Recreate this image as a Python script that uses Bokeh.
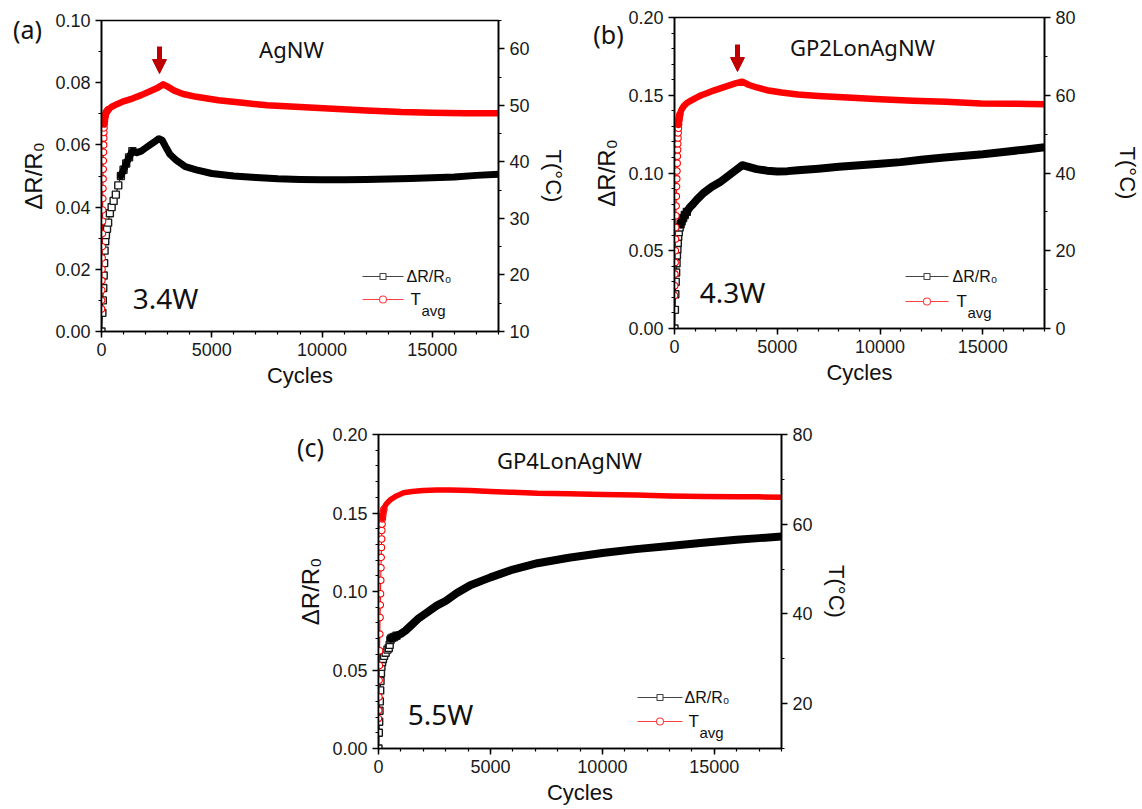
import numpy as np
from bokeh.plotting import figure
from bokeh.models import (Range1d, LinearAxis, FixedTicker, NumeralTickFormatter,
                          Label, Arrow, NormalHead, Spacer, GridBox)
from bokeh.layouts import row, column
from bokeh.embed import file_html
from bokeh.resources import INLINE
from bokeh.core.properties import value

# ---------------- data ----------------
# (a) AgNW, 3.4 W
a_cyc_dr = [0, 40, 60, 80, 100, 120, 140, 170, 200, 250, 300, 380, 460, 550, 650, 760, 880, 1000,
            1120, 1250, 1400, 1600, 1800, 2000, 2200, 2400, 2600, 2750, 2900, 3100, 3400, 3800,
            4300, 5000, 6000, 7000, 8000, 9000, 10000, 11000, 12000, 13000, 14000, 15000, 16000,
            17000, 18000]
a_dr = [0.000, 0.006, 0.010, 0.014, 0.018, 0.022, 0.026, 0.029, 0.031, 0.033, 0.035, 0.038, 0.040,
        0.042, 0.044, 0.047, 0.050, 0.052, 0.054, 0.056, 0.058, 0.0575, 0.058, 0.059, 0.060, 0.061,
        0.062, 0.0615, 0.0595, 0.057, 0.055, 0.053, 0.052, 0.0508, 0.0500, 0.0495, 0.0491, 0.0489,
        0.0488, 0.0488, 0.0489, 0.0490, 0.0492, 0.0494, 0.0497, 0.0502, 0.0506]
a_cyc_t = [0, 6, 12, 18, 24, 30, 36, 42, 48, 54, 60, 66, 72, 78, 84, 90, 96, 102, 108, 114, 120,
           135, 150, 170, 200, 240, 300, 450, 700, 1000, 1400, 1800, 2200, 2500, 2800, 3000, 3300,
           3700, 4300, 5300, 6500, 7500, 9000, 10500, 12000, 13600, 15000, 16500, 18000]
a_t = [14.0, 15.5, 17.3, 19.0, 21.0, 23.0, 25.0, 27.3, 29.5, 31.5, 33.5, 35.3, 37.0, 38.7, 40.2,
       41.7, 43.0, 44.2, 45.2, 46.0, 46.7, 47.3, 47.8, 48.2, 48.6, 48.9, 49.2, 49.7, 50.2, 50.7,
       51.2, 51.8, 52.5, 53.0, 53.7, 53.3, 52.6, 52.0, 51.5, 50.9, 50.4, 50.0, 49.7, 49.4, 49.1,
       48.8, 48.7, 48.6, 48.6]

# (b) GP2LonAgNW, 4.3 W
b_cyc_dr = [0, 20, 40, 60, 80, 100, 120, 140, 160, 180, 210, 250, 300, 350, 420, 500, 600, 750, 900,
            1100, 1400, 1800, 2200, 2600, 3000, 3300, 3600, 4000, 4500, 5000, 5500, 6000, 7000, 8000,
            9000, 10000, 11000, 12000, 13000, 14000, 15000, 16000, 17000, 18000]
b_dr = [0.000, 0.012, 0.022, 0.030, 0.036, 0.042, 0.047, 0.051, 0.055, 0.059, 0.062, 0.065, 0.067,
        0.069, 0.071, 0.073, 0.075, 0.078, 0.080, 0.083, 0.087, 0.091, 0.094, 0.098, 0.102, 0.105,
        0.104, 0.1025, 0.1015, 0.101, 0.1012, 0.1018, 0.1028, 0.104, 0.105, 0.106, 0.107, 0.1085,
        0.1098, 0.111, 0.112, 0.1135, 0.115, 0.1165]
b_cyc_t = [0, 10, 20, 30, 40, 50, 60, 70, 80, 90, 100, 110, 120, 130, 140, 150, 160, 170, 180, 190,
           200, 215, 230, 260, 300, 350, 450, 600, 800, 1000, 1300, 1600, 1900, 2300, 2700, 3000,
           3300, 3600, 4000, 4500, 5200, 6000, 7000, 8400, 10000, 11600, 13200, 14900, 16500, 18000]
b_t = [8.5, 11.0, 14.0, 17.0, 20.0, 23.0, 26.0, 29.0, 31.5, 34.0, 36.5, 38.5, 40.5, 42.5, 44.3, 46.0,
       47.5, 49.0, 50.3, 51.5, 52.5, 53.5, 54.3, 55.0, 55.7, 56.4, 57.2, 58.0, 58.6, 59.2, 60.0,
       60.6, 61.2, 61.9, 62.6, 63.1, 63.5, 62.7, 62.0, 61.3, 60.7, 60.2, 59.8, 59.4, 59.0, 58.6,
       58.3, 57.9, 57.8, 57.7]

# (c) GP4LonAgNW, 5.5 W
c_cyc_dr = [0, 15, 30, 45, 60, 75, 90, 110, 130, 160, 200, 250, 320, 400, 460, 500, 530, 560, 620,
            700, 800, 1000, 1200, 1500, 1800, 2200, 2600, 3000, 3500, 4100, 5000, 6000, 7100, 8500,
            10000, 11500, 13000, 14500, 16000, 17000, 18000]
c_dr = [0.000, 0.010, 0.017, 0.024, 0.030, 0.037, 0.043, 0.048, 0.052, 0.055, 0.057, 0.059, 0.061,
        0.063, 0.064, 0.066, 0.069, 0.070, 0.0705, 0.071, 0.0718, 0.073, 0.075, 0.079, 0.083, 0.087,
        0.091, 0.094, 0.099, 0.104, 0.109, 0.114, 0.118, 0.1215, 0.1245, 0.127, 0.129, 0.131, 0.133,
        0.134, 0.135]
c_cyc_t = [0, 10, 20, 30, 40, 50, 60, 70, 80, 90, 100, 110, 120, 130, 140, 150, 160, 175, 190, 210,
           240, 280, 330, 400, 540, 800, 1120, 1500, 2000, 2600, 3200, 4100, 5000, 6000, 7100, 8500,
           10000, 11500, 13000, 14500, 16000, 17000, 18000]
c_t = [16.7, 18.5, 21.5, 25.2, 28.5, 31.8, 35.5, 39.2, 42.0, 44.5, 47.5, 50.3, 52.6, 54.8, 56.7,
       58.6, 60.0, 61.2, 62.0, 62.7, 63.3, 63.9, 64.4, 64.8, 65.5, 66.3, 67.0, 67.3, 67.5, 67.6,
       67.6, 67.5, 67.3, 67.1, 66.9, 66.8, 66.6, 66.5, 66.3, 66.2, 66.1, 66.1, 66.0]

# tick positions / labels
x_major = [0, 5000, 10000, 15000]
x_minor = list(range(0, 18001, 1000))
a_left_major = [0.00, 0.02, 0.04, 0.06, 0.08, 0.10]
a_left_minor = [0.01, 0.03, 0.05, 0.07, 0.09]
a_right_major = [10, 20, 30, 40, 50, 60]
a_right_minor = [15, 25, 35, 45, 55, 65]
bc_left_major = [0.00, 0.05, 0.10, 0.15, 0.20]
bc_left_minor = [0.01, 0.02, 0.03, 0.04, 0.06, 0.07, 0.08, 0.09, 0.11, 0.12, 0.13, 0.14,
                 0.16, 0.17, 0.18, 0.19]
bc_right_major = [0, 20, 40, 60, 80]
bc_right_minor = [10, 30, 50, 70]

titles = ["AgNW", "GP2LonAgNW", "GP4LonAgNW"]
powers = ["3.4W", "4.3W", "5.5W"]
letters = ["(a)", "(b)", "(c)"]

# ---------------- styles ----------------
TICK_FONT = "Liberation Sans"
TXT_FONT = "Noto Sans"
RED = "#FF0000"
ARROW = "#C00000"


def to_data(g, X, Y):
    fx = (X - g["fl"]) / (g["fr"] - g["fl"])
    fy = (g["fb"] - Y) / (g["fb"] - g["ft"])
    x0, x1 = g["xr"]
    y0, y1 = g["yl"]
    return x0 + fx * (x1 - x0), y0 + fy * (y1 - y0)


def style_axis(ax, label, standoff, size="23px"):
    ax.axis_label = label
    ax.axis_label_text_font = TICK_FONT
    ax.axis_label_text_font_size = size
    ax.axis_label_text_font_style = "normal"
    ax.axis_label_text_color = "#111111"
    ax.axis_label_standoff = standoff
    ax.major_label_text_font = TICK_FONT
    ax.major_label_text_font_size = "18px"
    ax.major_label_text_color = "#1a1a1a"
    ax.major_label_standoff = 5
    ax.axis_line_color = "black"
    ax.axis_line_width = 1.6
    ax.major_tick_in = 0
    ax.major_tick_out = 6
    ax.minor_tick_in = 0
    ax.minor_tick_out = 3
    ax.major_tick_line_width = 1.5
    ax.minor_tick_line_width = 1.2
    ax.major_tick_line_color = "black"
    ax.minor_tick_line_color = "black"


def panel(g, cyc_dr, dr, cyc_t, t, left_major, left_minor, right_major, right_minor,
          th, idx, arrow_px=None):
    p = figure(width=g["w"], height=g["h"], output_backend="svg", toolbar_location=None,
               x_range=Range1d(*g["xr"]), y_range=Range1d(*g["yl"]),
               min_border_left=g["fl"] - g["ox"], min_border_right=g["ox"] + g["w"] - g["fr"],
               min_border_top=g["ft"] - g["oy"], min_border_bottom=g["oy"] + g["h"] - g["fb"])
    p.extra_y_ranges = {"T": Range1d(*g["yr"])}
    p.xgrid.visible = False
    p.ygrid.visible = False
    p.outline_line_color = "black"
    p.outline_line_width = 1.5
    p.background_fill_color = "white"
    p.border_fill_color = "white"

    p.xaxis.ticker = FixedTicker(ticks=x_major, minor_ticks=x_minor)
    p.xaxis.formatter = NumeralTickFormatter(format="0")
    style_axis(p.xaxis[0], "Cycles", 4, "22px")
    p.yaxis.ticker = FixedTicker(ticks=left_major, minor_ticks=left_minor)
    p.yaxis.formatter = NumeralTickFormatter(format="0.00")
    style_axis(p.yaxis[0], "ΔR/R₀", 5, "24px")
    rax = LinearAxis(y_range_name="T", ticker=FixedTicker(ticks=right_major, minor_ticks=right_minor),
                     formatter=NumeralTickFormatter(format="0"))
    style_axis(rax, "T(°C)", g["rstand"], "22px")
    p.add_layout(rax, "right")

    # ---- ΔR/R0 series (black squares) ----
    cd = np.array(cyc_dr, dtype=float)
    d = np.array(dr, dtype=float)
    p.line(cd, d, line_color="black", line_width=1)
    m = cd <= th["dr_mark"]
    p.scatter(cd[m], d[m], marker="square", size=7, fill_color="white",
              line_color="#1a1a1a", line_width=1.4)
    b = cd >= th["dr_band"]
    p.line(cd[b], d[b], line_color="black", line_width=th["dr_w"],
           line_join="round", line_cap="round")

    # ---- T series (red circles) ----
    ct = np.array(cyc_t, dtype=float)
    tv = np.array(t, dtype=float)
    p.line(ct, tv, line_color=RED, line_width=1, y_range_name="T")
    m = ct <= th["t_mark"]
    p.scatter(ct[m], tv[m], marker="circle", size=6.5, fill_color="white",
              line_color=RED, line_width=1.1, y_range_name="T")
    b = ct >= th["t_band"]
    p.line(ct[b], tv[b], line_color=RED, line_width=th["t_w"], y_range_name="T",
           line_join="round", line_cap="round")

    # ---- texts ----
    x, y = to_data(g, *g["title"])
    p.add_layout(Label(x=x, y=y, text=titles[idx], text_font=TXT_FONT, text_font_size="22px",
                       text_align="center", text_baseline="middle", text_color="#111111"))
    x, y = to_data(g, *g["power"])
    p.add_layout(Label(x=x, y=y, text=powers[idx], text_font=TXT_FONT, text_font_size="28px",
                       text_align="center", text_baseline="middle", text_color="#111111"))

    # ---- legend ----
    lx0, lx1, ly0, ly1, tx = g["legend"]
    x0, yb = to_data(g, lx0, ly0)
    x1, yr = to_data(g, lx1, ly1)
    xm = (x0 + x1) / 2
    p.segment(x0=[x0], y0=[yb], x1=[x1], y1=[yb], line_color="#444444", line_width=1.2)
    p.scatter([xm], [yb], marker="square", size=6, fill_color="white", line_color="#444444",
              line_width=1.1)
    p.segment(x0=[x0], y0=[yr], x1=[x1], y1=[yr], line_color="#ff4040", line_width=1.2)
    p.scatter([xm], [yr], marker="circle", size=7, fill_color="white", line_color="#ff4040",
              line_width=1.1)
    txd, _ = to_data(g, tx, ly0)
    p.add_layout(Label(x=txd, y=yb, text="ΔR/R₀", text_font=TICK_FONT, text_font_size="16px",
                       text_baseline="middle", text_color="#111111"))
    tx2, _ = to_data(g, tx + 4, ly1)
    p.add_layout(Label(x=tx2, y=yr, text="T", text_font=TICK_FONT, text_font_size="17px",
                       text_baseline="middle", text_color="#111111"))
    tx3, ys = to_data(g, tx + 15, ly1 + 11)
    p.add_layout(Label(x=tx3, y=ys, text="avg", text_font=TICK_FONT, text_font_size="15px",
                       text_baseline="middle", text_color="#111111"))

    # ---- arrow ----
    if arrow_px is not None:
        ax_, ay0, ay1 = arrow_px
        xs, ys0 = to_data(g, ax_, ay0)
        _, ys1 = to_data(g, ax_, ay1)
        p.add_layout(Arrow(end=NormalHead(size=14, fill_color=ARROW, line_color=ARROW),
                           x_start=xs, y_start=ys0, x_end=xs, y_end=ys1,
                           line_color=ARROW, line_width=5))

    # ---- panel letter: a transparent full-size overlay figure sharing the grid cell ----
    w, h = g["w"], g["h"]
    cx, cy = g["letter"]
    f = figure(width=w, height=h, output_backend="svg", toolbar_location=None,
               x_range=Range1d(0, w), y_range=Range1d(0, h), frame_align=False,
               min_border_left=0, min_border_right=0, min_border_top=0, min_border_bottom=0,
               x_axis_type=None, y_axis_type=None)
    f.grid.visible = False
    f.outline_line_color = None
    f.background_fill_color = None
    f.border_fill_color = None
    f.text(x=[cx - g["ox"]], y=[h - (cy - g["oy"])], text=[letters[idx]],
           text_font=value(TXT_FONT), text_font_size=value("25px"), text_color="#111111",
           text_align="center", text_baseline="middle")
    return GridBox(children=[(p, 0, 0), (f, 0, 0)])


GA = dict(w=580, h=400, ox=0, oy=0, fl=101, fr=498, ft=20, fb=331,
          xr=(0, 18000), yl=(0, 0.10), yr=(10, 65), rstand=8,
          title=(291, 48), power=(165, 297), letter=(27, 28),
          legend=(362, 403, 276, 299, 406))
GB = dict(w=562, h=400, ox=580, oy=0, fl=674, fr=1044, ft=17, fb=328,
          xr=(0, 18000), yl=(0, 0.20), yr=(0, 80), rstand=36,
          title=(862, 46), power=(732, 291), letter=(608, 33),
          legend=(905, 948, 276, 301, 952))
GC = dict(w=591, h=409, ox=270, oy=400, fl=378, fr=781, ft=434, fb=748,
          xr=(0, 18000), yl=(0, 0.20), yr=(10, 80), rstand=8,
          title=(569, 459), power=(440, 713), letter=(310, 446),
          legend=(637, 682, 697, 721, 684))

ga = panel(GA, a_cyc_dr, a_dr, a_cyc_t, a_t, a_left_major, a_left_minor,
           a_right_major, a_right_minor,
           dict(dr_mark=1400, dr_band=880, dr_w=7, t_mark=300, t_band=120, t_w=6.5), 0,
           arrow_px=(159, 46, 73))
gb = panel(GB, b_cyc_dr, b_dr, b_cyc_t, b_t, bc_left_major, bc_left_minor,
           bc_right_major, bc_right_minor,
           dict(dr_mark=600, dr_band=300, dr_w=8, t_mark=260, t_band=200, t_w=6.5), 1,
           arrow_px=(737, 44, 71))
gc = panel(GC, c_cyc_dr, c_dr, c_cyc_t, c_t, bc_left_major, bc_left_minor,
           bc_right_major, bc_right_minor,
           dict(dr_mark=800, dr_band=560, dr_w=8, t_mark=240, t_band=175, t_w=5.5), 2)

layout = column(row(ga, gb), row(Spacer(width=270, height=409), gc))
open("out.html", "w").write(file_html(layout, INLINE, title="chart"))
